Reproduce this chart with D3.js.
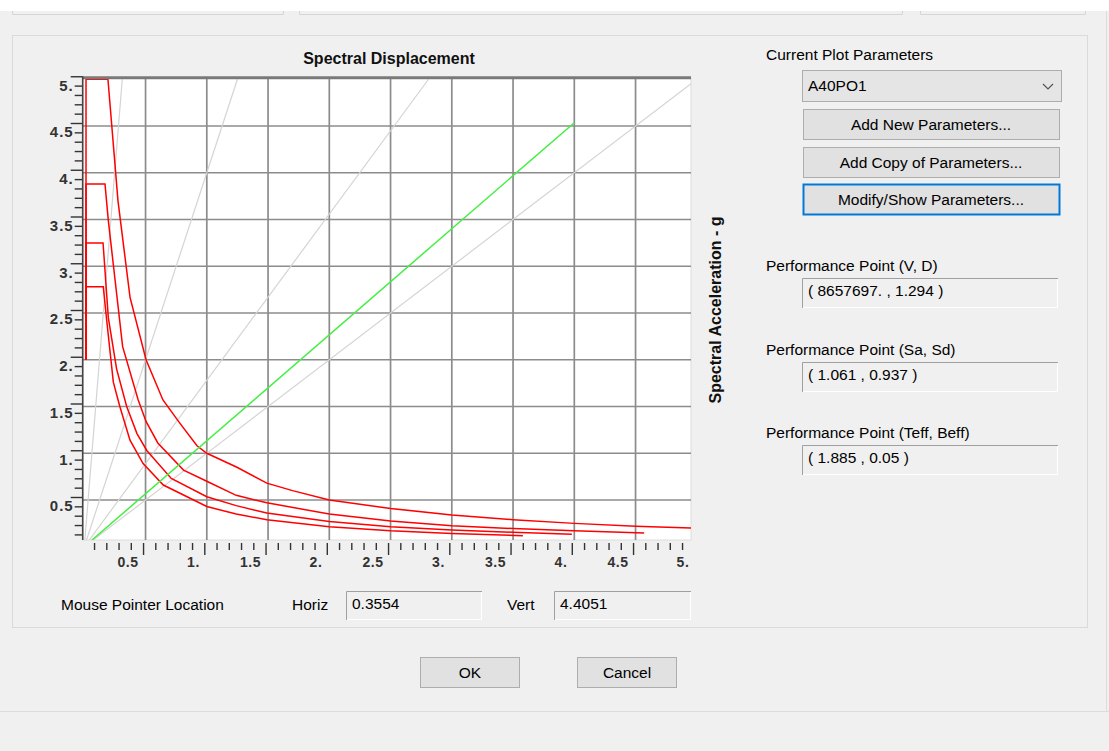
<!DOCTYPE html>
<html lang="en">
<head>
    <meta charset="UTF-8">
    <title>Spectral Displacement</title>
    <script src="https://cdnjs.cloudflare.com/ajax/libs/d3/7.8.5/d3.min.js"></script>
    <style>
        body {
            margin: 0;
            background: #f0f0f0;
            font-family: "Liberation Sans", Arial, sans-serif;
        }

        svg {
            display: block;
        }

        .ui-text {
            font-size: 15.5px;
            fill: #000;
        }

        .chart-title {
            font-size: 16px;
            font-weight: bold;
            fill: #111;
        }

        .tick text {
            font-family: "Liberation Sans", Arial, sans-serif;
            font-size: 14px;
            font-weight: bold;
            fill: #333;
        }

        .y-axis .tick text {
            font-size: 15px;
        }

        .grid line {
            stroke: #8c8c8c;
            stroke-width: 1.7;
        }

        .period-line {
            fill: none;
            stroke: #d4d4d4;
            stroke-width: 1.2;
        }

        .demand {
            fill: none;
            stroke: #ff0000;
            stroke-width: 1.5;
        }

        .capacity {
            fill: none;
            stroke: #44ee44;
            stroke-width: 1.5;
        }
    </style>
</head>
<body>
    <div id="wrapper"></div>
    <script>
        // tick labels (SAP style "1." etc)
        const xTickValues = [0.5, 1, 1.5, 2, 2.5, 3, 3.5, 4, 4.5, 5]
        const xTickLabels = ['0.5', '1.', '1.5', '2.', '2.5', '3.', '3.5', '4.', '4.5', '5.']
        const yTickValues = [0.5, 1, 1.5, 2, 2.5, 3, 3.5, 4, 4.5, 5]
        const yTickLabels = ['0.5', '1.', '1.5', '2.', '2.5', '3.', '3.5', '4.', '4.5', '5.']

        // demand spectra [Sd, Sa]
        const demandA = [[0.014, 2.0], [0.014, 5.0], [0.193, 5.0], [0.275, 3.70], [0.373, 2.67], [0.504, 2.0],
            [0.642, 1.57], [0.781, 1.32], [0.92, 1.08], [1.0, 1.0], [1.246, 0.85], [1.49, 0.68], [1.70, 0.60],
            [2.0, 0.50], [2.5, 0.41], [3.0, 0.34], [3.5, 0.29], [4.0, 0.25], [4.5, 0.22], [5.1, 0.195]]
        const demandB = [[0.014, 2.0], [0.014, 3.88], [0.169, 3.88], [0.196, 3.49], [0.313, 2.14], [0.44, 1.57],
            [0.504, 1.34], [0.60, 1.11], [0.81, 0.82], [1.0, 0.70], [1.24, 0.55], [1.49, 0.47], [2.0, 0.35],
            [2.5, 0.275], [3.0, 0.225], [3.5, 0.195], [4.0, 0.17], [4.57, 0.148]]
        const demandC = [[0.014, 2.0], [0.014, 3.25], [0.153, 3.25], [0.196, 2.45], [0.264, 1.90], [0.346, 1.50],
            [0.43, 1.21], [0.51, 1.03], [0.71, 0.73], [1.0, 0.535], [1.24, 0.44], [1.49, 0.36], [2.0, 0.27],
            [2.5, 0.215], [3.0, 0.18], [3.5, 0.155], [3.98, 0.133]]
        const demandD = [[0.014, 2.0], [0.014, 2.78], [0.155, 2.78], [0.183, 2.42], [0.237, 1.76], [0.29, 1.50],
            [0.373, 1.14], [0.48, 0.89], [0.645, 0.66], [1.0, 0.43], [1.24, 0.35], [1.49, 0.29], [2.0, 0.215],
            [2.5, 0.17], [3.0, 0.143], [3.58, 0.118]]

        // capacity line (green)
        const capacity = [[0, 0], [4.0, 4.535]]

        // constant period lines T = 0.5, 1.0, 1.5, 2.0 (from origin)
        const periodLineEnds = [[0.31, 5.0], [1.25, 5.0], [2.81, 5.0], [5.0, 5.0]]

        // right hand panel texts
        const plotParamName = 'A40PO1'
        const paramButtons = ['Add New Parameters...', 'Add Copy of Parameters...', 'Modify/Show Parameters...']
        const perfLabels = ['Performance Point (V, D)', 'Performance Point (Sa, Sd)', 'Performance Point (Teff, Beff)']
        const perfValues = ['( 8657697. , 1.294 )', '( 1.061 , 0.937 )', '( 1.885 , 0.05 )']
        const mouseHoriz = '0.3554'
        const mouseVert = '4.4051'

        function drawSpectrumPlot() {
            const width = 1109
            const height = 751
            const plot = { left: 83, top: 78, right: 691, bottom: 540 }

            const svg = d3.select('#wrapper')
                .append('svg')
                    .attr('width', width)
                    .attr('height', height)

            // ---- window chrome ----
            svg.append('rect').attr('width', width).attr('height', 11).attr('fill', '#fff')
            const tabs = [[12, 283], [299, 902], [920, 1085]]
            tabs.forEach(([a, b]) => {
                svg.append('path')
                    .attr('d', `M${a + 0.5},11 V14.5 H${b + 0.5} V11`)
                    .attr('fill', 'none')
                    .attr('stroke', '#d6d6d6')
            })
            svg.append('line')
                .attr('x1', 1106.5).attr('x2', 1106.5).attr('y1', 11).attr('y2', 711)
                .attr('stroke', '#dcdcdc')
            svg.append('line')
                .attr('x1', 0).attr('x2', width).attr('y1', 711.5).attr('y2', 711.5)
                .attr('stroke', '#dcdcdc')

            // group box
            svg.append('rect')
                .attr('x', 12.5).attr('y', 35.5).attr('width', 1075).attr('height', 592)
                .attr('fill', '#f0f0f0')
                .attr('stroke', '#dadada')

            // ---- plot ----
            const x = d3.scaleLinear().domain([0, 5]).range([84.3, 696.8])
            const y = d3.scaleLinear().domain([0, 5]).range([546.75, 79.25])

            svg.append('defs').append('clipPath').attr('id', 'plot-clip')
                .append('rect')
                .attr('x', plot.left).attr('y', plot.top)
                .attr('width', plot.right - plot.left).attr('height', plot.bottom - plot.top)

            svg.append('rect')
                .attr('x', plot.left).attr('y', plot.top)
                .attr('width', plot.right - plot.left).attr('height', plot.bottom - plot.top)
                .attr('fill', '#fff')
                .attr('stroke', '#dcdcdc')

            const bounds = svg.append('g').attr('clip-path', 'url(#plot-clip)')

            // grid
            const grid = bounds.append('g').attr('class', 'grid')
            grid.selectAll('.gx')
                .data(xTickValues.filter(d => d < 5))
                .join('line')
                    .attr('class', 'gx')
                    .attr('x1', d => x(d)).attr('x2', d => x(d))
                    .attr('y1', plot.top).attr('y2', plot.bottom)
            grid.selectAll('.gy')
                .data(yTickValues.filter(d => d < 5))
                .join('line')
                    .attr('class', 'gy')
                    .attr('x1', plot.left).attr('x2', plot.right)
                    .attr('y1', d => y(d)).attr('y2', d => y(d))

            const lineGenerator = d3.line()
                .x(d => x(d[0]))
                .y(d => y(d[1]))

            bounds.selectAll('.period-line')
                .data(periodLineEnds)
                .join('path')
                    .attr('class', 'period-line')
                    .attr('d', d => lineGenerator([[0, 0], d]))

            bounds.selectAll('.demand')
                .data([demandD, demandC, demandB, demandA])
                .join('path')
                    .attr('class', 'demand')
                    .attr('d', lineGenerator)

            bounds.append('path')
                .attr('class', 'capacity')
                .attr('d', lineGenerator(capacity))

            // heavy top frame line
            svg.append('line')
                .attr('x1', plot.left).attr('x2', plot.right)
                .attr('y1', y(5) - 1.5).attr('y2', y(5) - 1.5)
                .attr('stroke', '#7a7a7a')
                .attr('stroke-width', 3)

            // ---- axes (ticks sit ~3px off the grid, like the original) ----
            const minorValues = d3.range(1, 50).map(d => d / 10).filter(d => Math.round(d * 10) % 5 !== 0)

            const yAxis = svg.append('g')
                .attr('class', 'y-axis')
                .attr('transform', 'translate(82.7, -3)')
                .style('color', '#333')
            yAxis.append('g')
                .call(d3.axisLeft(y).tickValues(minorValues).tickSize(8).tickSizeOuter(0).tickFormat(''))
                .call(g => g.select('.domain').remove())
            yAxis.append('g')
                .call(d3.axisLeft(y).tickValues(yTickValues).tickSize(12).tickSizeOuter(0)
                    .tickFormat((d, i) => yTickLabels[i]))
                .call(g => g.select('.domain').remove())
                .call(g => g.selectAll('.tick text')
                    .attr('x', -9)
                    .attr('y', 9)
                    .attr('dy', '0.32em')
                    .style('letter-spacing', '1px'))
            yAxis.selectAll('.tick line').attr('stroke-width', 1.4)

            svg.append('line')
                .attr('x1', 82.7).attr('x2', 82.7)
                .attr('y1', y(5) - 3).attr('y2', plot.bottom)
                .attr('stroke', '#444')
                .attr('stroke-width', 1.6)

            const xAxis = svg.append('g')
                .attr('transform', `translate(-2.5, 543)`)
                .style('color', '#333')
            xAxis.append('g')
                .call(d3.axisBottom(x).tickValues(minorValues).tickSize(7).tickSizeOuter(0).tickFormat(''))
                .call(g => g.select('.domain').remove())
            xAxis.append('g')
                .call(d3.axisBottom(x).tickValues(xTickValues.filter(d => d < 5)).tickSize(12).tickSizeOuter(0)
                    .tickFormat((d, i) => xTickLabels[i]))
                .call(g => g.select('.domain').remove())
                .call(g => g.selectAll('.tick text')
                    .attr('text-anchor', 'end')
                    .attr('x', -5)
                    .attr('y', 14)
                    .attr('dy', '0.71em')
                    .style('letter-spacing', '0.5px'))
            // last label sits just outside the frame
            xAxis.append('text')
                .attr('x', x(5) - 5).attr('y', 14).attr('dy', '0.71em')
                .attr('text-anchor', 'end')
                .style('font-size', '14px')
                .style('font-weight', 'bold')
                .style('letter-spacing', '0.5px')
                .attr('fill', '#333')
                .text(xTickLabels[xTickLabels.length - 1])
            xAxis.selectAll('.tick line').attr('stroke-width', 1.4)

            // titles
            svg.append('text')
                .attr('class', 'chart-title')
                .attr('x', 389).attr('y', 64)
                .attr('text-anchor', 'middle')
                .text('Spectral Displacement')

            svg.append('text')
                .attr('class', 'chart-title')
                .attr('transform', 'translate(721, 310) rotate(-90)')
                .attr('text-anchor', 'middle')
                .text('Spectral Acceleration - g')

            // ---- right panel ----
            const ui = svg.append('g')

            ui.append('text').attr('class', 'ui-text')
                .attr('x', 766).attr('y', 60)
                .text('Current Plot Parameters')

            // combo box
            ui.append('rect')
                .attr('x', 802.5).attr('y', 70.5).attr('width', 259).attr('height', 31)
                .attr('fill', '#e5e5e5').attr('stroke', '#adadad')
            ui.append('text').attr('class', 'ui-text')
                .attr('x', 808).attr('y', 91)
                .text(plotParamName)
            ui.append('path')
                .attr('d', 'M1043,84 L1048,89 L1053,84')
                .attr('fill', 'none')
                .attr('stroke', '#555')
                .attr('stroke-width', 1.2)

            const buttonTops = [109, 147, 184]
            paramButtons.forEach((label, i) => {
                const focused = i === 2
                ui.append('rect')
                    .attr('x', 803.5).attr('y', buttonTops[i] + 0.5)
                    .attr('width', 256).attr('height', 30)
                    .attr('fill', '#e1e1e1')
                    .attr('stroke', focused ? '#0078d7' : '#adadad')
                    .attr('stroke-width', focused ? 2 : 1)
                ui.append('text').attr('class', 'ui-text')
                    .attr('x', 931).attr('y', buttonTops[i] + 20.5)
                    .attr('text-anchor', 'middle')
                    .text(label)
            })

            const sunkenBox = (bx, by, bw, bh, value) => {
                ui.append('rect')
                    .attr('x', bx).attr('y', by).attr('width', bw).attr('height', bh)
                    .attr('fill', '#f0f0f0')
                ui.append('path')
                    .attr('d', `M${bx + 0.5},${by + bh} V${by + 0.5} H${bx + bw}`)
                    .attr('fill', 'none').attr('stroke', '#a0a0a0')
                ui.append('path')
                    .attr('d', `M${bx + bw - 0.5},${by + 1} V${by + bh - 0.5} H${bx + 1}`)
                    .attr('fill', 'none').attr('stroke', '#ffffff')
                ui.append('text').attr('class', 'ui-text')
                    .attr('x', bx + 6).attr('y', by + 18)
                    .text(value)
            }

            const perfTops = [278, 362, 445]
            perfLabels.forEach((label, i) => {
                ui.append('text').attr('class', 'ui-text')
                    .attr('x', 766).attr('y', perfTops[i] - 7)
                    .text(label)
                sunkenBox(802, perfTops[i], 256, 30, perfValues[i])
            })

            // mouse pointer row
            ui.append('text').attr('class', 'ui-text')
                .attr('x', 61).attr('y', 610)
                .text('Mouse Pointer Location')
            ui.append('text').attr('class', 'ui-text')
                .attr('x', 292).attr('y', 610)
                .text('Horiz')
            sunkenBox(346, 591, 136, 29, mouseHoriz)
            ui.append('text').attr('class', 'ui-text')
                .attr('x', 507).attr('y', 610)
                .text('Vert')
            sunkenBox(554, 591, 137, 29, mouseVert)

            // OK / Cancel
            const dialogButtons = [['OK', 420], ['Cancel', 577]]
            dialogButtons.forEach(([label, bx]) => {
                ui.append('rect')
                    .attr('x', bx + 0.5).attr('y', 657.5).attr('width', 99).attr('height', 30)
                    .attr('fill', '#e1e1e1').attr('stroke', '#adadad')
                ui.append('text').attr('class', 'ui-text')
                    .attr('x', bx + 50).attr('y', 678)
                    .attr('text-anchor', 'middle')
                    .text(label)
            })
        }

        drawSpectrumPlot()
    </script>
</body>
</html>
